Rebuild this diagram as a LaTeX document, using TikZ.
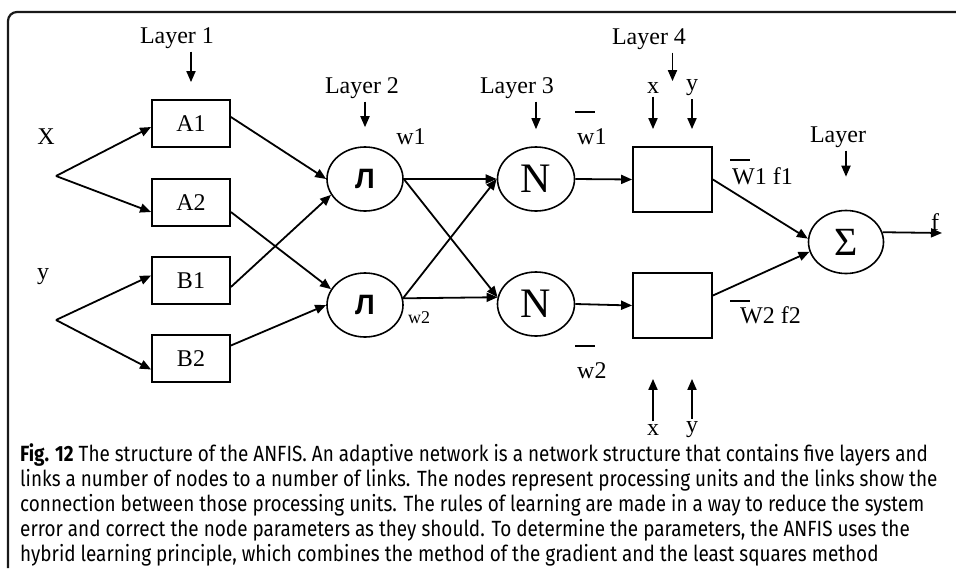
\documentclass[tikz,border=0pt]{standalone}
\usepackage{fontspec}
\setmainfont{Liberation Serif}
\newfontfamily\capfont[FakeStretch=0.86]{Fira Sans}
\newfontfamily\cyrfont{Liberation Sans}
\usetikzlibrary{arrows.meta,shapes,shapes.geometric,calc}
\tikzset{
  x=1pt, y=-1pt,
  lbl/.style = {inner sep=3pt, font=\fontsize{24}{26}\selectfont},
  sm_lbl/.style = {inner sep=0pt, font=\fontsize{18}{20}\selectfont},
  bar_lbl/.style = {inner sep=0pt, align=left, anchor=west, font=\fontsize{24}{26}\selectfont},
  mf_n/.style = {draw, line width=1.8pt, minimum width=78pt, minimum height=47pt, inner sep=0pt, font=\fontsize{24}{26}\selectfont},
  f_n/.style = {draw, line width=1.8pt, minimum width=79pt, minimum height=65pt, inner sep=0pt},
  op_n/.style = {draw, ellipse, line width=1.6pt, minimum width=76pt, minimum height=64pt, inner sep=0pt},
  arr/.style = {-{Triangle[length=11pt,width=9pt]}, line width=1.8pt},
  ln/.style = {line width=1.8pt}
}
\newcommand{\barred}[3]{\rule{20pt}{1.8pt}\\[#1]\hspace*{#2}#3}

\begin{document}
\begin{tikzpicture}
\useasboundingbox (0,0) rectangle (956,568);
\draw[line width=2.2pt, rounded corners=9pt, black!90] (8,568) |- (956,12);

\node [mf_n] (A1) at (191,123.5) {A1};
\node [mf_n] (A2) at (191,202.5) {A2};
\node [mf_n] (B1) at (191,280.5) {B1};
\node [mf_n] (B2) at (191,358.5) {B2};

\node [op_n] (L1) at (365,179) {\cyrfont\bfseries\fontsize{28}{28}\selectfont Л};
\node [op_n] (L2) at (365,305) {\cyrfont\bfseries\fontsize{28}{28}\selectfont Л};
\node [op_n, minimum width=77pt] (N1) at (536,179) {\fontsize{42}{42}\selectfont N};
\node [op_n, minimum width=77pt] (N2) at (536,304) {\fontsize{42}{42}\selectfont N};
\node [f_n] (F1) at (672.5,179.5) {};
\node [f_n] (F2) at (672.5,305.5) {};
\node [op_n, minimum width=75pt, minimum height=63pt] (S) at (846,242) {\fontsize{40}{40}\selectfont Σ};

\node [lbl] (ly1) at (177,38) {Layer 1};
\node [lbl] (ly2) at (362,88) {Layer 2};
\node [lbl] (ly3) at (517,88) {Layer 3};
\node [lbl] (ly4) at (649,39) {Layer 4};
\node [lbl] (ly5) at (838,137) {Layer};

\node [lbl] (xin) at (46,137) {X};
\node [lbl] (yin) at (43,277) {y};
\coordinate (xs) at (56,176);
\coordinate (ys) at (56,320);

\node [lbl] (x4) at (653,88) {x};
\node [lbl] (y4) at (692,88) {y};
\node [lbl] (x4b) at (653,430) {x};
\node [lbl] (y4b) at (692,430) {y};

\node [lbl] (w1) at (411,137) {w1};
\node [sm_lbl] (w2) at (419,318) {w2};
\node [bar_lbl] (nw1) at (575,128) {\barred{5pt}{2pt}{w1}};
\node [bar_lbl] (nw2) at (575,362) {\barred{5pt}{2pt}{w2}};
\node [bar_lbl] (wf1) at (730,172) {\barred{-2pt}{2pt}{W1 f1}};
\node [bar_lbl] (wf2) at (730,312) {\barred{-5pt}{10pt}{W2 f2}};

\node [lbl] (fo) at (935,222) {f};
\coordinate (fout) at (942,233);

\draw [arr] (ly1.south -| A1.north) -- ([yshift=17pt]A1.north);
\draw [arr] (ly2.south -| L1.north) -- ([yshift=19pt]L1.north);
\draw [arr, line width=1.2pt] (ly3.south -| N1.north) -- ([yshift=17pt]N1.north);
\draw [arr] (ly4.south -| F1.north) -- ([yshift=65pt]F1.north);
\draw [arr] (ly5.south -| S.north) -- ([yshift=33pt]S.north);
\draw [arr] (x4.south) -- ([yshift=17pt]x4.south |- F1.north);
\draw [arr] (y4.south) -- ([yshift=17pt]y4.south |- F1.north);
\draw [arr] (x4b.north) -- ([yshift=-40pt]x4b.north |- F2.south);
\draw [arr] (y4b.north) -- ([yshift=-40pt]y4b.north |- F2.south);

\draw [arr] (xs) -- ([yshift=-3.5pt]A1.west);
\draw [arr] (xs) -- ([yshift=-9.5pt]A2.west);
\draw [arr] (ys) -- ([yshift=5pt]B1.west);
\draw [arr] (ys) -- ([yshift=-11pt]B2.west);

\draw [arr] ([yshift=6.5pt]A1.east) -- (L1.west);
\draw [arr] ([yshift=-9.5pt]A2.east) -- (L2.155);
\draw [arr] ([yshift=-6.5pt]B1.east) -- (L1.205);
\draw [arr] ([yshift=13pt]B2.east) -- (L2.west);

\draw [arr] (L1.east) -- (N1.west);
\draw [arr] (L1.east) -- (N2.170);
\draw [arr] (L2.10) -- (N2.170);
\draw [arr] (L2.10) -- (N1.west);

\draw [arr] (N1.east) -- (F1.west);
\draw [arr] (N2.east) -- (F2.west);
\draw [arr] (F1.east) -- (S.175);
\draw [arr] ([yshift=10pt]F2.east) -- (S.195);
\draw [arr] (S.15) -- (fout);

\node [inner sep=0pt, anchor=north west, align=left, font=\capfont\fontsize{22}{25}\selectfont] (cap) at (20,443) {{\bfseries Fig. 12} The structure of the ANFIS. An adaptive network is a network structure that contains five layers and\\
links a number of nodes to a number of links. The nodes represent processing units and the links show the\\
connection between those processing units. The rules of learning are made in a way to reduce the system\\
error and correct the node parameters as they should. To determine the parameters, the ANFIS uses the\\
hybrid learning principle, which combines the method of the gradient and the least squares method};
\end{tikzpicture}
\end{document}
